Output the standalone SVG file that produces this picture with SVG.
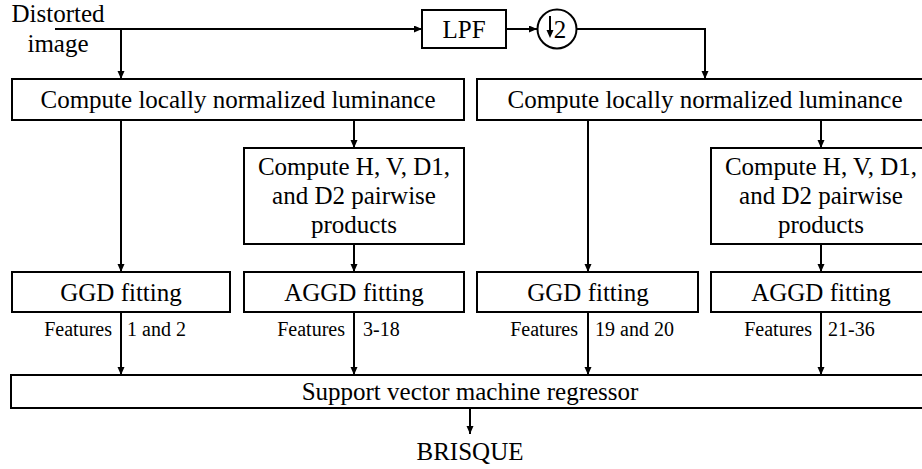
<svg xmlns="http://www.w3.org/2000/svg" width="922" height="469" viewBox="0 0 922 469">
<style>
.box{fill:#fff;stroke:#000;stroke-width:2}
.t{font-family:'Liberation Serif',Tinos,'Times New Roman','DejaVu Serif',serif;font-size:25px;fill:#000;text-anchor:middle}
.s{font-family:'Liberation Serif',Tinos,'Times New Roman','DejaVu Serif',serif;font-size:20px;fill:#000}
.e{text-anchor:end}
.c{fill:none;stroke:#000;stroke-width:2;marker-end:url(#ah)}
</style>
<defs>
<marker id="ah" markerUnits="userSpaceOnUse" markerWidth="9" markerHeight="8" refX="8" refY="3.5" orient="auto">
<path d="M0,0 L8,3.5 L0,7 z" fill="#000"/>
</marker>
</defs>
<rect width="922" height="469" fill="#fff"/>
<g id="connectors">
<path class="c" d="M55,29 H422"/>
<path class="c" d="M121,29 V79"/>
<path class="c" d="M506,29 H537"/>
<path class="c" d="M577,29 H705 V79"/>
<path class="c" d="M121,120 V272"/>
<path class="c" d="M354,120 V148"/>
<path class="c" d="M354,244 V272"/>
<path class="c" d="M121,312 V375"/>
<path class="c" d="M354,312 V375"/>
<path class="c" d="M588,120 V272"/>
<path class="c" d="M821,120 V148"/>
<path class="c" d="M821,244 V272"/>
<path class="c" d="M588,312 V375"/>
<path class="c" d="M821,312 V375"/>
<path class="c" d="M470,408 V434"/>
</g>
<g id="input">
<text class="t" x="58" y="22" font-family="Liberation Serif">Distorted</text>
<text class="t" x="58" y="52">image</text>
</g>
<g id="lpf">
<rect class="box" x="422" y="10" width="84" height="38"/>
<text class="t" x="464" y="38">LPF</text>
</g>
<g id="downsample">
<circle cx="557" cy="29" r="19.5" fill="#fff" stroke="#000" stroke-width="2"/>
<path d="M550,16 V32" stroke="#000" stroke-width="2"/>
<path d="M546.5,30 L553.5,30 L550,38 z" fill="#000"/>
<text class="t" x="560" y="38">2</text>
</g>
<g id="lum1">
<rect class="box" x="12" y="79" width="452" height="41"/>
<text class="t" x="238" y="108">Compute locally normalized luminance</text>
</g>
<g id="lum2">
<rect class="box" x="477" y="79" width="456" height="41"/>
<text class="t" x="705" y="108">Compute locally normalized luminance</text>
</g>
<g id="pair1">
<rect class="box" x="244" y="148" width="220" height="96"/>
<text class="t" x="354" y="175">Compute H, V, D1,</text>
<text class="t" x="354" y="204">and D2 pairwise</text>
<text class="t" x="354" y="233">products</text>
</g>
<g id="pair2">
<rect class="box" x="711" y="148" width="220" height="96"/>
<text class="t" x="821" y="175">Compute H, V, D1,</text>
<text class="t" x="821" y="204">and D2 pairwise</text>
<text class="t" x="821" y="233">products</text>
</g>
<g id="ggd1">
<rect class="box" x="12" y="272" width="218" height="40"/>
<text class="t" x="121" y="301">GGD fitting</text>
</g>
<g id="aggd1">
<rect class="box" x="244" y="272" width="220" height="40"/>
<text class="t" x="354" y="301">AGGD fitting</text>
</g>
<g id="ggd2">
<rect class="box" x="477" y="272" width="221" height="40"/>
<text class="t" x="588" y="301">GGD fitting</text>
</g>
<g id="aggd2">
<rect class="box" x="711" y="272" width="220" height="40"/>
<text class="t" x="821" y="301">AGGD fitting</text>
</g>
<g id="labels">
<text class="s e" x="112" y="336">Features</text>
<text class="s" x="127" y="336">1 and 2</text>
<text class="s e" x="345" y="336">Features</text>
<text class="s" x="363" y="336">3-18</text>
<text class="s e" x="578" y="336">Features</text>
<text class="s" x="595" y="336">19 and 20</text>
<text class="s e" x="812" y="336">Features</text>
<text class="s" x="828" y="336">21-36</text>
</g>
<g id="svm">
<rect class="box" x="11" y="375" width="918" height="33"/>
<text class="t" x="470" y="400">Support vector machine regressor</text>
</g>
<g id="output">
<text class="t" x="470" y="460">BRISQUE</text>
</g>
</svg>
